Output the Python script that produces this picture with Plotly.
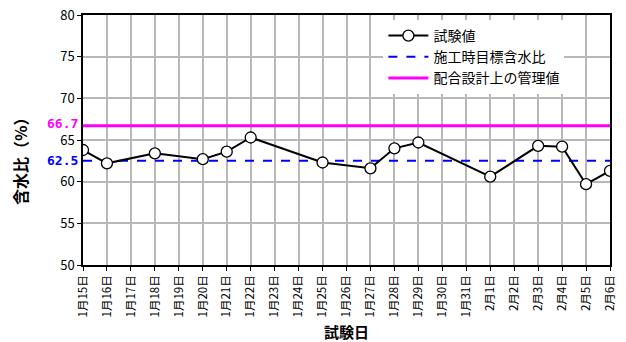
import plotly.graph_objects as go

# Test days shown on the category axis
days = ["1月15日", "1月16日", "1月17日", "1月18日", "1月19日", "1月20日", "1月21日",
        "1月22日", "1月23日", "1月24日", "1月25日", "1月26日", "1月27日", "1月28日",
        "1月29日", "1月30日", "1月31日", "2月1日", "2月2日", "2月3日", "2月4日",
        "2月5日", "2月6日"]

# Measured water content (%)
test_days = ["1月15日", "1月16日", "1月18日", "1月20日", "1月21日", "1月22日", "1月25日",
             "1月27日", "1月28日", "1月29日", "2月1日", "2月3日", "2月4日", "2月5日", "2月6日"]
test_values = [63.8, 62.2, 63.4, 62.7, 63.6, 65.3, 62.3, 61.6, 64.0, 64.7, 60.6, 64.3, 64.2, 59.7, 61.3]

target_value = 62.5   # 施工時目標含水比
limit_value = 66.7    # 配合設計上の管理値

FONT = "Noto Sans CJK JP"
W, H = 626, 342
ML, MR, MT, MB = 83, 16, 15, 77
PW, PH = W - ML - MR, H - MT - MB

fig = go.Figure()
fig.add_trace(go.Scatter(
    x=[days[0], days[-1]], y=[target_value, target_value], name="施工時目標含水比",
    mode="lines", line=dict(color="#0000ff", width=2, dash="dash"), legendrank=2,
))
fig.add_trace(go.Scatter(
    x=[days[0], days[-1]], y=[limit_value, limit_value], name="配合設計上の管理値",
    mode="lines", line=dict(color="#ff00ff", width=3), legendrank=3,
))
# measured series last so it is drawn on top
fig.add_trace(go.Scatter(
    x=test_days, y=test_values, name="試験値", mode="lines+markers",
    line=dict(color="black", width=2),
    marker=dict(symbol="circle", size=11, color="white", line=dict(color="black", width=1.3)),
    legendrank=1,
))

fig.update_layout(
    width=W, height=H,
    margin=dict(l=ML, r=MR, t=MT, b=MB, autoexpand=False),
    paper_bgcolor="white", plot_bgcolor="white",
    font=dict(family=FONT, size=12, color="black"),
    showlegend=True,
    legend=dict(x=0.57, y=0.98, xanchor="left", yanchor="top",
                bgcolor="white", borderwidth=0, traceorder="normal",
                font=dict(size=14), tracegroupgap=0, itemwidth=40),
)
fig.update_xaxes(
    type="category", categoryorder="array", categoryarray=days,
    range=[0, len(days) - 1], automargin=False,
    showline=True, linecolor="black", linewidth=1.5, mirror=True,
    showgrid=True, gridcolor="#b8b8b8", gridwidth=1.5,
    ticks="outside", ticklen=4, tickcolor="black",
    tickangle=-90, tickfont=dict(size=11.5, family=FONT),
    title=dict(text="<b>試験日</b>", font=dict(size=15, family=FONT), standoff=12),
)
fig.update_yaxes(
    range=[50, 80], dtick=5, automargin=False,
    showline=True, linecolor="black", linewidth=1.5, mirror=True,
    showgrid=True, gridcolor="#b8b8b8", gridwidth=1.5,
    ticks="outside", ticklen=4, tickcolor="black",
    tickfont=dict(size=13, family=FONT), zeroline=False,
)

# y-axis title, centred at x=20px, slightly below the plot's middle
fig.add_annotation(x=(20 - ML) / PW, xref="paper", xanchor="center",
                   y=1 - (158 - MT) / PH, yref="paper", yanchor="middle",
                   text="<b>含水比（%）</b>", textangle=-90, showarrow=False,
                   font=dict(size=16, family=FONT))

# value labels for the reference lines
fig.add_annotation(x=0, xref="paper", xanchor="right", xshift=-3, yshift=2,
                   y=limit_value, yref="y", text="<b>66.7</b>", showarrow=False,
                   font=dict(color="#ff00ff", size=13, family="DejaVu Sans Mono"))
fig.add_annotation(x=0, xref="paper", xanchor="right", xshift=-3,
                   y=target_value, yref="y", text="<b>62.5</b>", showarrow=False,
                   font=dict(color="#0000ff", size=13, family="DejaVu Sans Mono"))

fig.write_html("out.html")
